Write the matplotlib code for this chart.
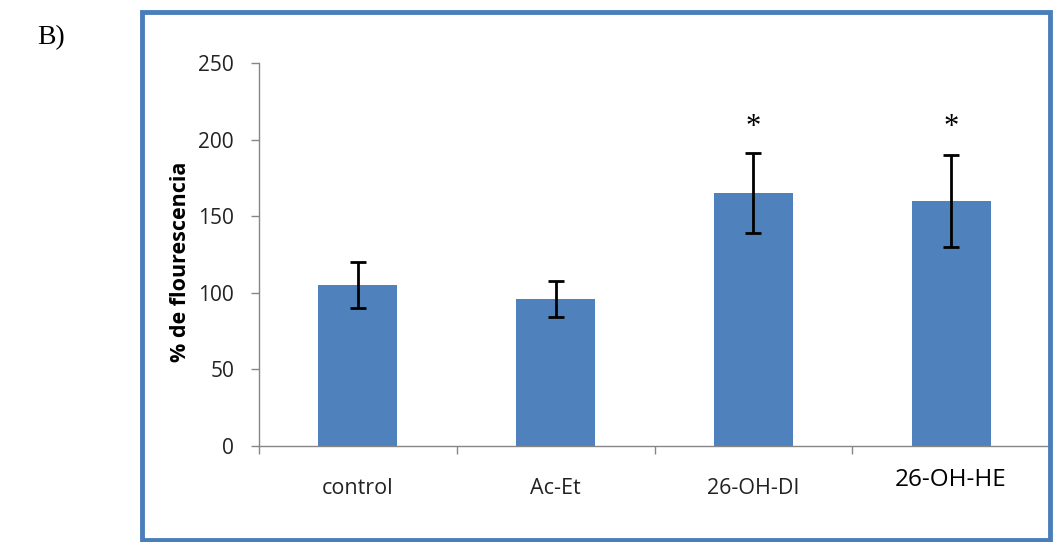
import matplotlib
matplotlib.use("Agg")
import matplotlib.pyplot as plt
from matplotlib.patches import Rectangle
import numpy as np

categories = ["control", "Ac-Et", "26-OH-DI", "26-OH-HE"]
means = [105, 96, 165, 160]
errors = [15, 12, 26, 30]
significant = [False, False, True, True]
yticks = [0, 50, 100, 150, 200, 250]

fig = plt.figure(figsize=(10.53, 5.42), dpi=100)
fig.patch.set_facecolor("white")

# outer blue frame
fig.patches.append(Rectangle((142/1053, 1-540/542), (1050-142)/1053, (540-12)/542,
                             transform=fig.transFigure, fill=False,
                             edgecolor="#4a7ebb", linewidth=3.5))

ax = fig.add_axes([259/1053, 1-446/542, (1050-259)/1053, (446-63)/542])
x = np.arange(len(categories))
ax.bar(x, means, width=0.4, color="#4f81bd", zorder=2)
ax.errorbar(x, means, yerr=errors, fmt="none", ecolor="black", elinewidth=2,
            capsize=6, capthick=2, zorder=3)
for xi, m, e, s in zip(x, means, errors, significant):
    if s:
        ax.text(xi, 208, "*", ha="center", va="center", fontsize=22,
                family="Liberation Serif", color="black")

ax.set_xlim(-0.5, len(categories) - 0.5)
ax.set_ylim(0, 250)
ax.set_yticks(yticks)
ax.set_yticklabels([str(t) for t in yticks], fontsize=15, family="Open Sans", color="#222222")
ax.set_xticks(x)
ax.set_xticklabels([])
ax.tick_params(axis="x", which="major", length=0)
ax.set_xticks(np.arange(-0.5, len(categories), 1), minor=True)
ax.tick_params(axis="x", which="minor", length=6, color="#868686", width=1)
ax.tick_params(axis="y", length=6, color="#868686", width=1, pad=12)

for xi, lab in zip(x, categories):
    if lab == "26-OH-HE":
        ax.text(xi, -0.089, lab, transform=ax.get_xaxis_transform(), ha="center", va="center",
                fontsize=17.5, family="Open Sans", color="black")
    else:
        ax.text(xi, -0.11, lab, transform=ax.get_xaxis_transform(), ha="center", va="center",
                fontsize=15.5, family="Open Sans", color="#222222")

for side in ["top", "right"]:
    ax.spines[side].set_visible(False)
for side in ["left", "bottom"]:
    ax.spines[side].set_color("#868686")
    ax.spines[side].set_linewidth(1)

fig.text(180/1053, 1-262/542, "% de flourescencia", rotation=90, ha="center", va="center",
         fontsize=15.5, family="Open Sans", fontweight="bold", color="black")

fig.text(37/1053, 1-38/542, "B)", fontsize=20, family="Liberation Serif", va="center", ha="left")

fig.savefig("out.png", dpi=100)
